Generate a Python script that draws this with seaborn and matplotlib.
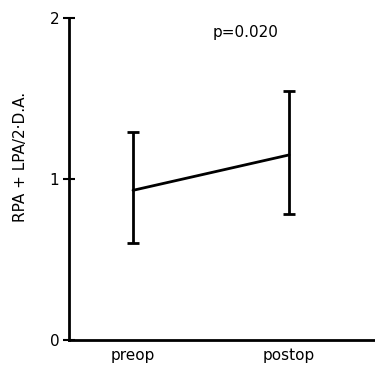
import matplotlib
matplotlib.use("Agg")
import matplotlib.pyplot as plt
import seaborn as sns
import pandas as pd

categories = ["preop", "postop"]
means = [0.93, 1.15]
upper = [1.29, 1.55]
lower = [0.60, 0.78]
yticks = [0, 1, 2]
ylabel = "RPA + LPA/2·D.A."
ptext = "p=0.020"

sns.set_style("white")
plt.rcParams['font.family'] = ['DejaVu Sans']
plt.rcParams['text.color'] = 'black'
plt.rcParams['axes.labelcolor'] = 'black'
plt.rcParams['xtick.color'] = 'black'
plt.rcParams['ytick.color'] = 'black'

df = pd.DataFrame({"phase": categories, "ratio": means})

fig = plt.figure(figsize=(3.75, 3.67), dpi=100)
ax = fig.add_axes([0.184, 0.0736, 0.816, 0.877])

sns.pointplot(data=df, x="phase", y="ratio", order=categories, color="black",
              markers="", linewidth=2, errorbar=None, ax=ax)
yerr = [[m - l for m, l in zip(means, lower)], [u - m for m, u in zip(means, upper)]]
ax.errorbar(range(len(categories)), means, yerr=yerr, fmt="none", ecolor="black",
            elinewidth=2, capsize=4, capthick=2)

ax.set_xlim(-0.41, 1.55)
ax.set_ylim(0, 2)
ax.set_yticks(yticks)
ax.set_yticklabels([str(t) for t in yticks], fontsize=11)
ax.tick_params(axis="y", left=True, direction="inout", length=8, width=1.5, pad=3,
               colors="black")
ax.tick_params(axis="x", length=0, pad=6, labelsize=11, colors="black")
ax.set_xlabel("")
ax.set_ylabel(ylabel, fontsize=11, color="black")
ax.yaxis.set_label_coords(-0.135, 0.57)

for s in ["top", "right"]:
    ax.spines[s].set_visible(False)
for s in ["left", "bottom"]:
    ax.spines[s].set_linewidth(2)
    ax.spines[s].set_color("black")

ax.text(0.72, 1.91, ptext, fontsize=11, ha="center", va="center", color="black")

fig.savefig("out.png", dpi=100)
